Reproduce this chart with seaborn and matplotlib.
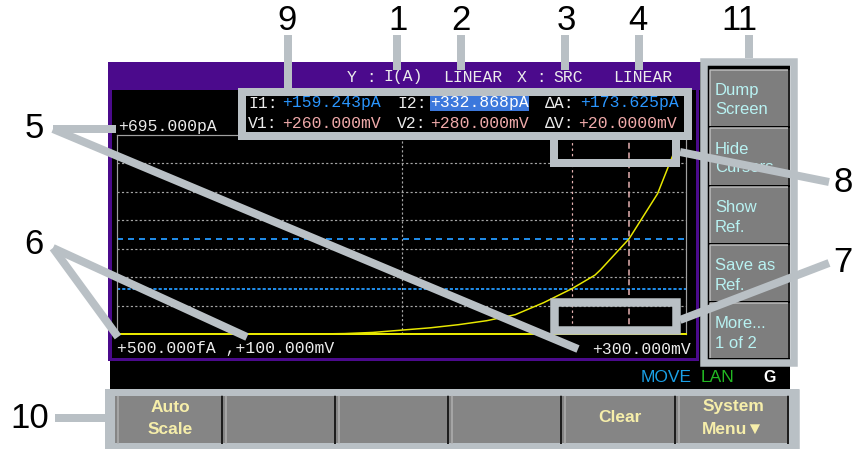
import numpy as np
import pandas as pd
import matplotlib
matplotlib.use("Agg")
import matplotlib.pyplot as plt
from matplotlib.patches import Rectangle
import seaborn as sns

# ---------------- data ----------------
voltage_mv = [100, 110, 120, 130, 140, 150, 160, 170, 180, 190, 200, 210, 220,
              230, 240, 250, 260, 268, 270, 280, 290, 300]
current_pa = [0.5, 0.5, 0.5, 0.5, 0.5, 0.5, 0.5, 0.5, 2, 6, 14, 22, 33,
              47, 68, 110, 159.243, 206, 225, 332.868, 490, 740]
x_limits_mv = [100.0, 300.0]
y_limits_pa = [0.5, 695.0]
cursor_v_mv = [260.0, 280.0]
cursor_i_pa = [159.243, 332.868]

header_words = ["Y :", "I(A)", "LINEAR", "X :", "SRC", "LINEAR"]
readout_labels = ["I1:", "I2:", "\u0394A:", "V1:", "V2:", "\u0394V:"]
readout_values = ["+159.243pA", "+332.868pA", "+173.625pA",
                  "+260.000mV", "+280.000mV", "+20.0000mV"]
axis_labels = ["+695.000pA", "+500.000fA ,+100.000mV", "+300.000mV"]
softkeys_right = ["Dump\nScreen", "Hide\nCursors", "Show\nRef.", "Save as\nRef.", "More...\n1 of 2"]
softkeys_bottom = ["Auto\nScale", "", "", "", "Clear", "System\nMenu\u25bc"]
status_words = ["MOVE", "LAN", "G"]
callout_numbers = ["1", "2", "3", "4", "5", "6", "7", "8", "9", "10", "11"]

# ---------------- styles ----------------
PURPLE = "#4b0a8c"
CALL = "#b9c0c5"
MONO = ["Liberation Mono", "DejaVu Sans Mono"]
SANS = ["Liberation Sans", "DejaVu Sans"]
NARROW = ["Liberation Sans Narrow", "Liberation Sans", "DejaVu Sans"]
PX = 0.72  # points per pixel at 100 dpi

W, H = 859, 449
fig = plt.figure(figsize=(W / 100, H / 100), dpi=100)
fig.patch.set_facecolor("white")


def pix_axes(z):
    a = fig.add_axes([0, 0, 1, 1], zorder=z)
    a.set_xlim(0, W)
    a.set_ylim(H, 0)
    a.axis("off")
    a.patch.set_alpha(0)
    return a


def rect(ax, x0, y0, x1, y1, **kw):
    ax.add_patch(Rectangle((x0, y0), x1 - x0, y1 - y0, **kw))


bg = pix_axes(0)

# screen
rect(bg, 110, 62, 700, 389, facecolor="black", edgecolor="none")
rect(bg, 700, 62, 790, 389, facecolor="black", edgecolor="none")
rect(bg, 110, 62, 700, 90, facecolor=PURPLE, edgecolor="none")
rect(bg, 108, 62, 112, 361, facecolor=PURPLE, edgecolor="none")
rect(bg, 696, 62, 699, 361, facecolor=PURPLE, edgecolor="none")
rect(bg, 108, 358, 699, 361, facecolor=PURPLE, edgecolor="none")

# header text
hx = [347, 383, 443, 517, 553, 613]
for w, x in zip(header_words, hx):
    bg.text(x, 77, w, color="#ececec", family=MONO, fontsize=11.8, va="center", ha="left")

# readouts
rx = [248, 397, 545]
vx = [282, 430, 580]
for i in range(3):
    bg.text(rx[i], 103, readout_labels[i], color="#ececec", family=MONO, fontsize=11.8, va="center")
    bg.text(rx[i], 123, readout_labels[i + 3], color="#ececec", family=MONO, fontsize=11.8, va="center")
rect(bg, 430, 96, 529, 111, facecolor="#3c78dc", edgecolor="none")
bg.text(vx[0], 103, readout_values[0], color="#2a96ff", family=MONO, fontsize=11.8, va="center")
bg.text(vx[1], 103, readout_values[1], color="white", family=MONO, fontsize=11.8, va="center")
bg.text(vx[2], 103, readout_values[2], color="#2a96ff", family=MONO, fontsize=11.8, va="center")
for i in range(3):
    bg.text(vx[i] if i < 2 else 578, 123, readout_values[i + 3], color="#f0aaaa",
            family=MONO, fontsize=11.8, va="center")

# axis labels
bg.text(118, 127, axis_labels[0], color="#ececec", family=MONO, fontsize=11.8, va="center")
bg.text(117, 349, axis_labels[1], color="#ececec", family=MONO, fontsize=11.8, va="center")
bg.text(691, 349, axis_labels[2], color="#ececec", family=MONO, fontsize=11.8, va="center", ha="right")

# status
bg.text(641, 377, status_words[0], color="#1aa0e6", family=NARROW, fontsize=12.5, va="center")
bg.text(701, 377, status_words[1], color="#22b822", family=NARROW, fontsize=12.5, va="center")
bg.text(763, 377, status_words[2], color="white", family=NARROW, fontsize=11.5, va="center", weight="bold")

# right softkeys
tops = [70, 128, 187, 245, 303]
bots = [126, 185, 243, 301, 358]
for lab, t, b in zip(softkeys_right, tops, bots):
    rect(bg, 710, t, 790, b, facecolor="#7e7e7e", edgecolor="none")
    bg.plot([710, 710, 788], [b, t, t], color="#bdbdbd", lw=1.5 * PX, solid_capstyle="butt")
    bg.plot([789, 789], [t, b], color="#222222", lw=2 * PX, solid_capstyle="butt")
    for k, line in enumerate(lab.split("\n")):
        bg.text(715, t + 21 + 19 * k, line, color="#b8f2f2", family=SANS, fontsize=12, va="center")

# bottom panel
rect(bg, 105, 389, 799, 449, facecolor=CALL, edgecolor="none")
edges = [115, 223, 336, 449, 562, 676, 789]
for i, lab in enumerate(softkeys_bottom):
    l, r = edges[i], edges[i + 1]
    rect(bg, l, 396, r, 443, facecolor="#858585", edgecolor="none")
    bg.plot([l + 3, l + 3], [396, 443], color="#b0b0b0", lw=1.5 * PX)
    bg.plot([r - 1, r - 1], [396, 443], color="#1e1e1e", lw=2 * PX)
    lines = lab.split("\n") if lab else []
    cx = (l + r) / 2 + 1
    if len(lines) == 2:
        bg.text(cx, 407, lines[0], color="#f6eeaa", family=NARROW, fontsize=12.5, weight="bold", ha="center", va="center")
        bg.text(cx, 429, lines[1], color="#f6eeaa", family=NARROW, fontsize=12.5, weight="bold", ha="center", va="center")
    elif len(lines) == 1:
        bg.text(cx, 418, lines[0], color="#f6eeaa", family=NARROW, fontsize=12.5, weight="bold", ha="center", va="center")

# ---------------- data axes ----------------
x0, x1, y0, y1 = 117, 686, 135, 334
ax = fig.add_axes([x0 / W, 1 - y1 / H, (x1 - x0) / W, (y1 - y0) / H], zorder=1)
ax.set_facecolor("black")
df = pd.DataFrame({"V": voltage_mv, "I": current_pa})
ax.set_yticks(np.linspace(y_limits_pa[0], y_limits_pa[1], 8)[1:-1])
ax.set_xticks([np.mean(x_limits_mv)])
ax.grid(True, color="#a6a6a6", lw=1.2 * PX, ls=(0, (1.8, 1.9)))
ax.tick_params(length=0, labelbottom=False, labelleft=False)
ax.axhline(cursor_i_pa[0], color="#1f8ae6", lw=2 * PX, ls=(0, (1.6, 1.0)))
ax.axhline(cursor_i_pa[1], color="#1f8ae6", lw=2 * PX, ls=(0, (3, 2.5)))
ax.axvline(cursor_v_mv[0], color="#eab4b4", lw=1.2 * PX, ls=(0, (2, 2.5)))
ax.axvline(cursor_v_mv[1], color="#eab4b4", lw=1.5 * PX, ls=(0, (4, 2.5)))
sns.lineplot(data=df, x="V", y="I", ax=ax, color="#e8e800", lw=1.5 * PX)
ax.set_xlim(*x_limits_mv)
ax.set_ylim(*y_limits_pa)
ax.set_xlabel("")
ax.set_ylabel("")
for s in ax.spines.values():
    s.set_color("#a0a0a0")
    s.set_linewidth(1.2 * PX)
ax.spines["bottom"].set_color("#e8e800")
ax.spines["bottom"].set_linewidth(2 * PX)

# ---------------- callouts ----------------
ov = pix_axes(2)
LW = 8 * PX


def seg(pts, lw=LW):
    xs, ys = zip(*pts)
    ov.plot(xs, ys, color=CALL, lw=lw, solid_capstyle="butt", solid_joinstyle="miter")


def frame(xa, ya, xb, yb, t=8):
    h = t / 2
    ov.add_patch(Rectangle((xa + h, ya + h), xb - xa - t, yb - ya - t, facecolor="none",
                           edgecolor=CALL, lw=t * PX, joinstyle="miter"))


frame(238, 88, 692, 140)
frame(550, 132, 680, 167)
frame(550, 298, 680, 334, t=8.5)
frame(700, 58, 798, 367, t=7.5)
frame(105, 389, 799, 452, t=6.5)

seg([(397, 35), (397, 70)])
seg([(461, 35), (461, 70)])
seg([(565, 35), (565, 70)])
seg([(639, 35), (639, 70)])
seg([(288, 35), (288, 88)])
seg([(749, 35), (749, 58)])
seg([(53, 129), (116, 129)])
seg([(53, 129), (578, 349)])
seg([(53, 248), (118, 337)])
seg([(53, 248), (247, 337)])
seg([(680, 320), (829, 263)])
seg([(680, 152), (829, 182)])
seg([(55, 418), (105, 418)])

num_pos = [(398, 20), (461, 20), (566, 20), (638, 20), (34, 128), (34, 244),
           (843, 263), (843, 182), (287, 20), (30, 418), (739, 20)]
for n, (x, y) in zip(callout_numbers, num_pos):
    ov.text(x, y, n, color="black", family=SANS, fontsize=25, ha="center", va="center")

fig.savefig("out.png", dpi=100, facecolor="white")
